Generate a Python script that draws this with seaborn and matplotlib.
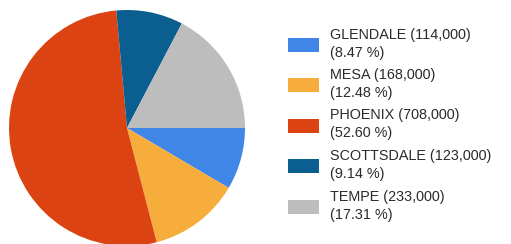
import matplotlib
matplotlib.use("Agg")
import matplotlib.pyplot as plt
import seaborn as sns
from matplotlib.patches import Rectangle

sns.set_theme(style="white")
plt.rcParams['font.family'] = ['Liberation Sans', 'DejaVu Sans']

cities = ["GLENDALE", "MESA", "PHOENIX", "SCOTTSDALE", "TEMPE"]
values = [114000, 168000, 708000, 123000, 233000]
percents = ["8.47", "12.48", "52.60", "9.14", "17.31"]
colors = ["#3f86e6", "#f6ad3c", "#dc4312", "#0b5e90", "#bdbdbd"]

W, H = 511, 244
fig = plt.figure(figsize=(W / 100, H / 100), dpi=100)

# pie axes: center (127,128) px, radius 118 px
cx, cy, r = 127, 128, 118
ax = fig.add_axes([(cx - r) / W, (H - cy - r) / H, 2 * r / W, 2 * r / H])
ax.pie(values, colors=colors, startangle=0, counterclock=False,
       radius=1, wedgeprops=dict(linewidth=0))
ax.set_xlim(-1, 1)
ax.set_ylim(-1, 1)
ax.set_aspect("equal")
ax.axis("off")

# legend
lax = fig.add_axes([0, 0, 1, 1], facecolor="none")
lax.set_xlim(0, W)
lax.set_ylim(H, 0)
lax.axis("off")
line0 = 34.5
entry_pitch = 40.5
inner = 18
for i, (c, v, p, col) in enumerate(zip(cities, values, percents, colors)):
    y1 = line0 + i * entry_pitch
    y2 = y1 + inner
    lax.add_patch(Rectangle((288, y1 + 3), 31, 14, facecolor=col, edgecolor="none"))
    lax.text(330, y1, f"{c} ({v:,})", fontsize=10.4, color="#2b2b2b", va="center", ha="left")
    lax.text(330, y2, f"({p} %)", fontsize=10.4, color="#2b2b2b", va="center", ha="left")

fig.savefig("out.png", dpi=100)
